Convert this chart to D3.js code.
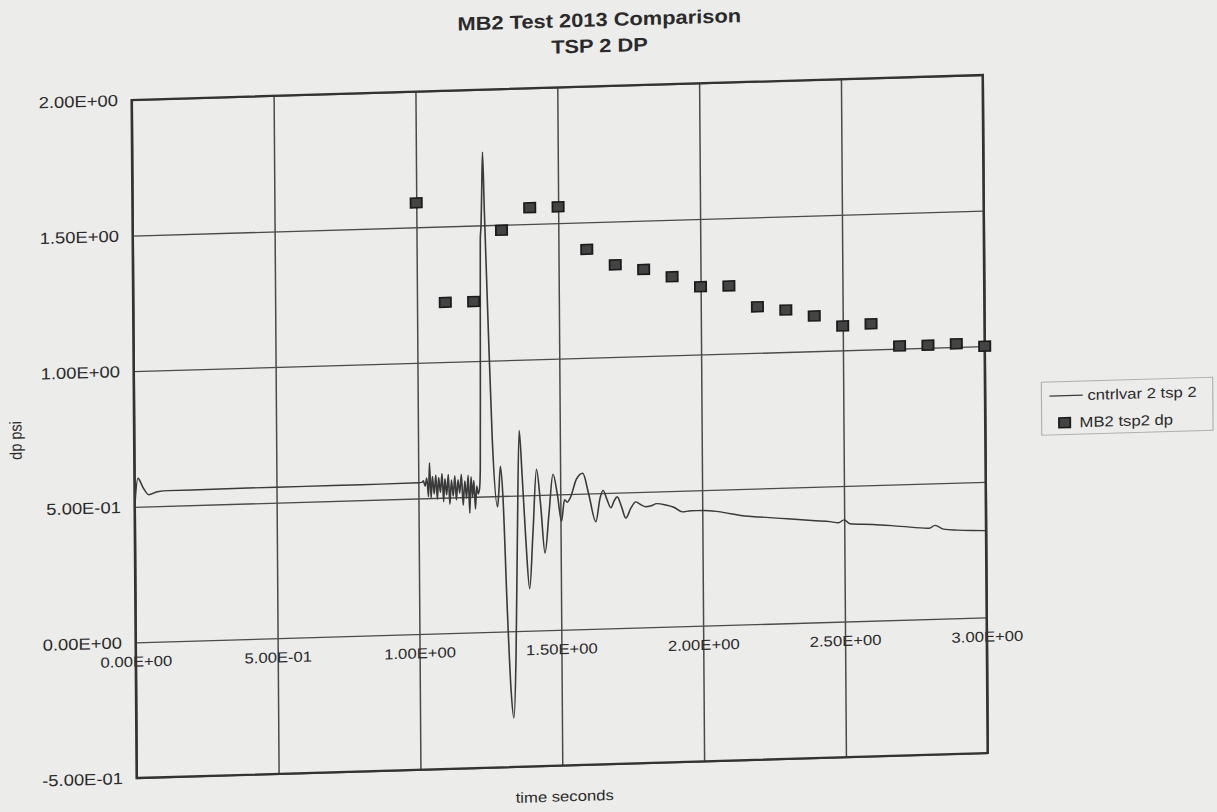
<!DOCTYPE html>
<html>
<head>
<meta charset="utf-8">
<script src="https://cdn.jsdelivr.net/npm/d3@7"></script>
<style>
  html, body { margin: 0; padding: 0; background: #ececea; }
  svg { display: block; }
  text { font-family: "Liberation Sans", Arial, sans-serif; fill: #2a2a2a; }
</style>
</head>
<body>
<svg id="chart" width="1217" height="812"></svg>
<script>
// Axis ticks and their printed labels
const xTicks = [0, 0.5, 1.0, 1.5, 2.0, 2.5, 3.0];
const xTickLabels = ["0.00E+00", "5.00E-01", "1.00E+00", "1.50E+00", "2.00E+00", "2.50E+00", "3.00E+00"];
const yTicks = [-0.5, 0, 0.5, 1.0, 1.5, 2.0];
const yTickLabels = ["-5.00E-01", "0.00E+00", "5.00E-01", "1.00E+00", "1.50E+00", "2.00E+00"];

// Measured test data (MB2 tsp2 dp), psi
const testTimes = [1.0, 1.1, 1.2, 1.3, 1.4, 1.5, 1.6, 1.7, 1.8, 1.9, 2.0,
                   2.1, 2.2, 2.3, 2.4, 2.5, 2.6, 2.7, 2.8, 2.9, 3.0];
const testDp = [1.59, 1.22, 1.22, 1.48, 1.56, 1.56, 1.40, 1.34, 1.32, 1.29, 1.25,
                1.25, 1.17, 1.155, 1.13, 1.09, 1.095, 1.01, 1.01, 1.012, 1.0];

// Calculated control variable (cntrlvar 2 tsp 2), psi
const calcTimes = [
  0.0, 0.012, 0.03, 0.05, 0.08, 0.12, 0.2, 0.4, 0.6, 0.8, 1.0, 1.015,
  1.018, 1.024, 1.030, 1.036, 1.040, 1.045, 1.050, 1.056, 1.062, 1.067,
  1.072, 1.078, 1.084, 1.089, 1.094, 1.100, 1.106, 1.111, 1.117, 1.123,
  1.129, 1.134, 1.140, 1.146, 1.152, 1.158, 1.164, 1.170, 1.176, 1.181,
  1.186, 1.191, 1.196, 1.201, 1.206, 1.211, 1.216,
  1.219, 1.222, 1.225, 1.228, 1.231, 1.235, 1.240, 1.250, 1.262, 1.279,
  1.284, 1.290, 1.298, 1.310, 1.322, 1.331, 1.340, 1.348, 1.357, 1.366,
  1.378, 1.390, 1.403, 1.417, 1.431, 1.445, 1.460, 1.475, 1.490, 1.504,
  1.515, 1.525, 1.535, 1.558, 1.580, 1.600, 1.625, 1.640, 1.651, 1.665,
  1.678, 1.690, 1.701, 1.715, 1.731, 1.748, 1.766, 1.785, 1.801, 1.820,
  1.840, 1.872, 1.900, 1.931, 1.960, 2.000, 2.050, 2.100, 2.150, 2.200,
  2.250, 2.300, 2.350, 2.400, 2.450, 2.480, 2.500, 2.520, 2.600, 2.700,
  2.800, 2.820, 2.850, 2.900, 2.950, 3.000
];
const calcDp = [
  0.50, 0.605, 0.57, 0.543, 0.553, 0.556, 0.556, 0.557, 0.557, 0.557, 0.558, 0.56,
  0.565, 0.545, 0.575, 0.505, 0.630, 0.500, 0.580, 0.515, 0.585, 0.495,
  0.575, 0.520, 0.590, 0.485, 0.570, 0.510, 0.585, 0.475, 0.565, 0.505,
  0.580, 0.490, 0.565, 0.515, 0.585, 0.470, 0.560, 0.495, 0.580, 0.440,
  0.575, 0.500, 0.560, 0.455, 0.540, 0.510, 0.530,
  0.60, 1.00, 1.45, 1.50, 1.62, 1.77, 1.55, 1.15, 0.71, 0.46,
  0.52, 0.61, 0.50, 0.10, -0.22, -0.32, -0.10, 0.35, 0.74, 0.58,
  0.33, 0.155, 0.36, 0.595, 0.46, 0.285, 0.43, 0.575, 0.50, 0.40,
  0.48, 0.47, 0.485, 0.555, 0.575, 0.50, 0.395, 0.48, 0.51, 0.475,
  0.445, 0.47, 0.485, 0.45, 0.405, 0.44, 0.464, 0.452, 0.445, 0.448,
  0.455, 0.449, 0.44, 0.422, 0.425, 0.425, 0.42, 0.41, 0.40, 0.395,
  0.39, 0.385, 0.38, 0.375, 0.37, 0.365, 0.375, 0.36, 0.355, 0.345,
  0.335, 0.345, 0.33, 0.325, 0.322, 0.32
];

// Plot area in local (unskewed) units; the whole sheet sits slightly tilted
const W = 740, H = 678;
const sheet = { a: 1.15, b: -25 / W, c: 5 / H, d: 1, e: 131.7, f: 100 };

const svg = d3.select("#chart");
svg.append("rect").attr("width", 1217).attr("height", 812).attr("fill", "#ececea");

const g = svg.append("g")
  .attr("transform", `matrix(${sheet.a},${sheet.b},${sheet.c},${sheet.d},${sheet.e},${sheet.f})`);

const x = d3.scaleLinear().domain([0, 3]).range([0, W]);
const y = d3.scaleLinear().domain([-0.5, 2]).range([H, 0]);

const fontStack = "'Liberation Sans', Arial, sans-serif";

// Horizontal gridlines with value labels on the left
const yAxis = g.append("g")
  .call(d3.axisLeft(y).tickValues(yTicks)
    .tickFormat((d, i) => yTickLabels[i])
    .tickSize(-W).tickPadding(12));
yAxis.select(".domain").remove();
yAxis.selectAll(".tick line").attr("stroke", "#4a4a4a").attr("stroke-width", 1.3);
yAxis.selectAll(".tick text").attr("font-size", 16).attr("fill", "#2a2a2a")
  .style("font-family", fontStack);

// Vertical gridlines
const xGrid = g.append("g").attr("transform", `translate(0,${H})`)
  .call(d3.axisBottom(x).tickValues(xTicks).tickFormat("").tickSize(-H));
xGrid.select(".domain").remove();
xGrid.selectAll(".tick line").attr("stroke", "#4a4a4a").attr("stroke-width", 1.3);

// Time labels sit along the zero line
const xLabels = g.append("g").attr("transform", `translate(0,${y(0)})`)
  .call(d3.axisBottom(x).tickValues(xTicks)
    .tickFormat((d, i) => xTickLabels[i]).tickSize(0).tickPadding(14));
xLabels.select(".domain").remove();
xLabels.selectAll(".tick text").attr("font-size", 14.5).attr("fill", "#2a2a2a")
  .style("font-family", fontStack);

// Plot frame
g.append("rect").attr("x", 0).attr("y", 0).attr("width", W).attr("height", H)
  .attr("fill", "none").attr("stroke", "#333").attr("stroke-width", 2.2);

// Calculated trace
const calc = calcTimes.map((t, i) => [t, calcDp[i]]);
g.append("path").datum(calc)
  .attr("fill", "none").attr("stroke", "#3a3a3a").attr("stroke-width", 1.4)
  .attr("stroke-linejoin", "round")
  .attr("d", d3.line().curve(d3.curveMonotoneX).x(d => x(d[0])).y(d => y(d[1])));

// Test points
const square = d3.symbol().type(d3.symbolSquare).size(95);
g.append("g").selectAll("path").data(testTimes.map((t, i) => [t, testDp[i]]))
  .join("path")
  .attr("transform", d => `translate(${x(d[0])},${y(d[1])})`)
  .attr("d", square)
  .attr("fill", "#444").attr("stroke", "#1c1c1c").attr("stroke-width", 1.6);

// Titles
g.append("text").attr("x", 407).attr("y", -60).attr("text-anchor", "middle")
  .attr("font-size", 19).attr("font-weight", "bold").attr("fill", "#333")
  .text("MB2 Test 2013 Comparison");
g.append("text").attr("x", 407).attr("y", -34).attr("text-anchor", "middle")
  .attr("font-size", 19).attr("font-weight", "bold").attr("fill", "#333")
  .text("TSP 2 DP");

g.append("text").attr("x", 372).attr("y", 714).attr("text-anchor", "middle")
  .attr("font-size", 14.5).text("time seconds");
g.append("text").attr("transform", "translate(-98,337) rotate(-90)")
  .attr("text-anchor", "middle").attr("font-size", 14.5).text("dp psi");

// Legend
const lg = g.append("g").attr("transform", "translate(789,309)");
lg.append("rect").attr("width", 149).attr("height", 53)
  .attr("fill", "none").attr("stroke", "#b0b0b0").attr("stroke-width", 1);
lg.append("line").attr("x1", 7).attr("x2", 36).attr("y1", 14).attr("y2", 14)
  .attr("stroke", "#3a3a3a").attr("stroke-width", 1.4);
lg.append("text").attr("x", 40).attr("y", 19).attr("font-size", 14.5).text("cntrlvar 2 tsp 2");
lg.append("path").attr("transform", "translate(20,41)").attr("d", square)
  .attr("fill", "#444").attr("stroke", "#1c1c1c").attr("stroke-width", 1.6);
lg.append("text").attr("x", 33).attr("y", 46).attr("font-size", 14.5).text("MB2 tsp2 dp");
</script>
</body>
</html>
